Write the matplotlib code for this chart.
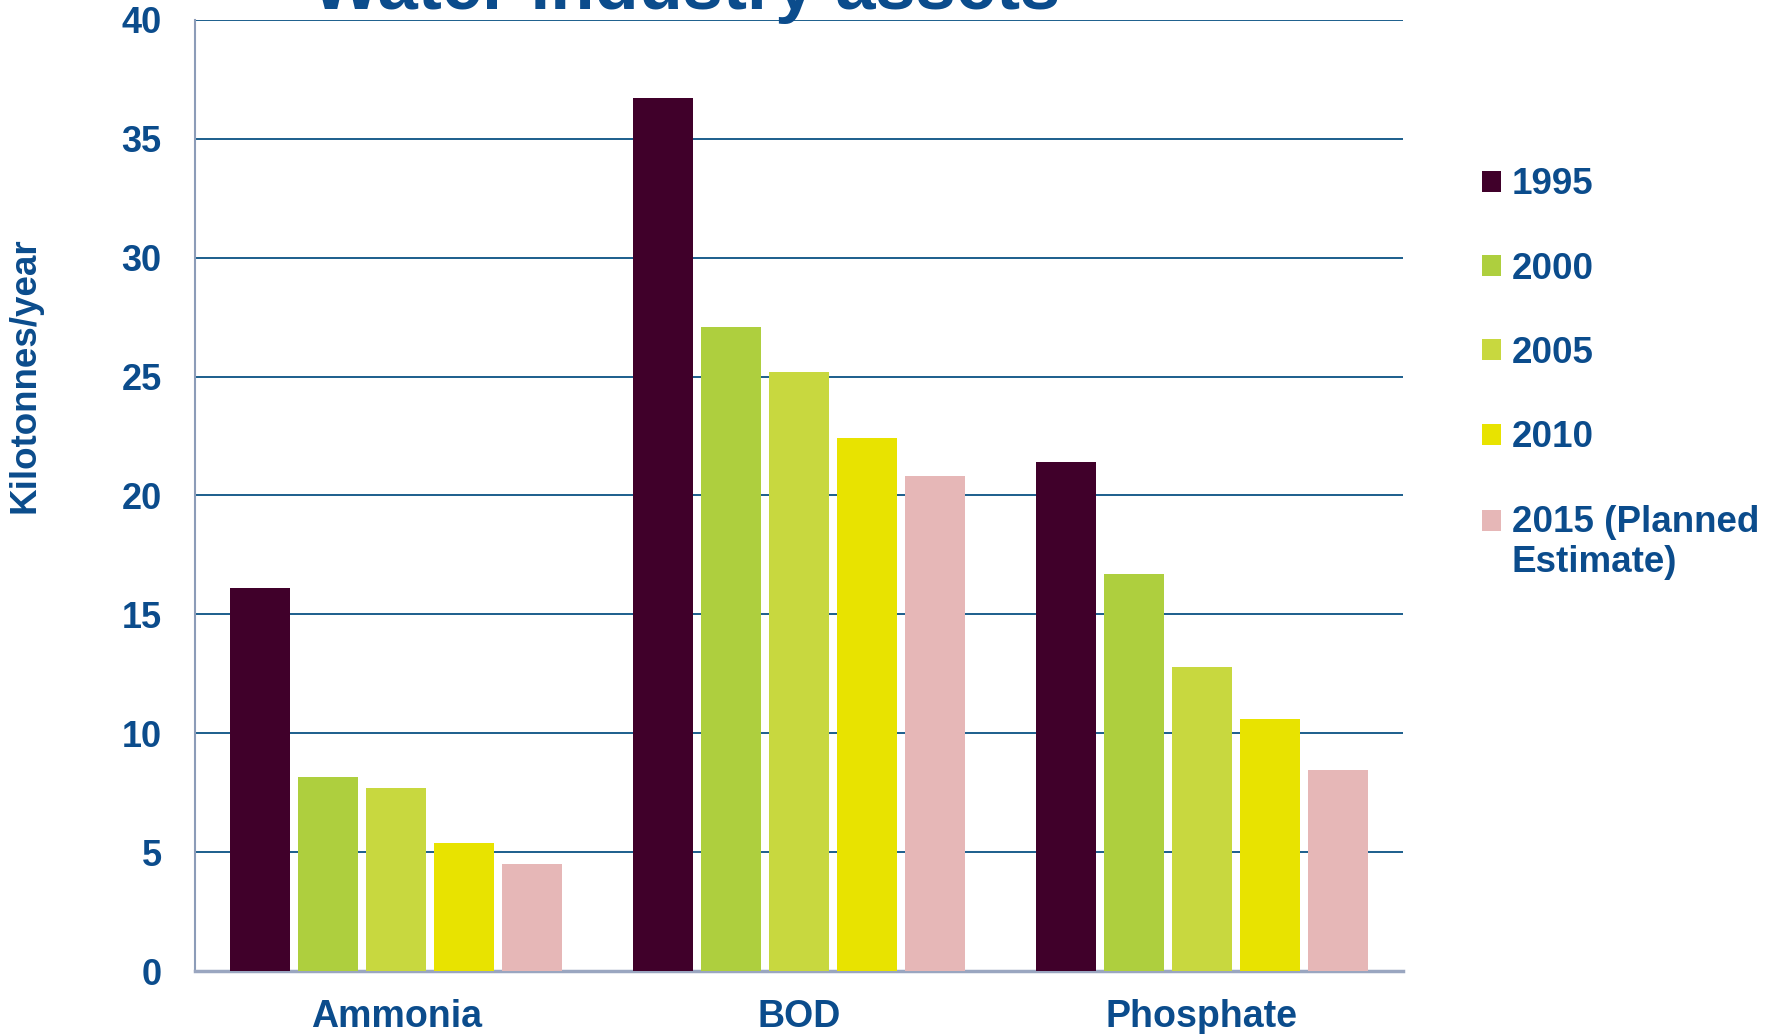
import numpy as np
import matplotlib.pyplot as plt
import matplotlib.patches as mpatches
from matplotlib.legend_handler import HandlerPatch, update_from_first_child

# Data
categories = ["Ammonia", "BOD", "Phosphate"]
years = ["1995", "2000", "2005", "2010", "2015 (Planned\nEstimate)"]
v1995 = [16.1, 36.7, 21.4]
v2000 = [8.15, 27.1, 16.7]
v2005 = [7.7, 25.2, 12.8]
v2010 = [5.4, 22.4, 10.6]
v2015 = [4.5, 20.8, 8.45]
yticks = [0, 5, 10, 15, 20, 25, 30, 35, 40]

series = [v1995, v2000, v2005, v2010, v2015]
colors = ["#40002A", "#AECF3E", "#C8D83F", "#E8E300", "#E6B7B7"]
blue = "#0B4C8C"
font = "Liberation Sans"

fig = plt.figure(figsize=(17.77, 10.34), dpi=100)
ax = fig.add_axes([0.1097, 0.0609, 0.6798, 0.9198])

x = np.arange(len(categories))
step, width = 0.169, 0.149
bars = []
for j, (vals, c, lab) in enumerate(zip(series, colors, years)):
    bars.append(ax.bar(x + (j - 2) * step, vals, width, color=c, label=lab, zorder=3))

ax.set_xlim(-0.5, 2.5)
ax.set_ylim(0, 40)
ax.set_yticks(yticks)
ax.yaxis.grid(True, color="#1B5E8C", linewidth=1.4, zorder=0)
ax.set_axisbelow(True)
ax.tick_params(axis="both", length=0)
ax.tick_params(axis="y", pad=24)
ax.tick_params(axis="x", pad=20)
for lbl in ax.get_yticklabels():
    lbl.set_fontfamily(font)
    lbl.set_fontweight("bold")
    lbl.set_fontsize(26)
    lbl.set_color(blue)
ax.set_xticks(x)
ax.set_xticklabels(categories, fontfamily=font, fontweight="bold",
                   fontsize=27, color=blue)

for s in ["top", "right"]:
    ax.spines[s].set_visible(False)
ax.spines["left"].set_color("#8C9CB8")
ax.spines["left"].set_linewidth(1.5)
ax.spines["bottom"].set_color("#9AA6C0")
ax.spines["bottom"].set_linewidth(2.5)

fig.text(25 / 1777, 1 - 375 / 1034, "Kilotonnes/year", rotation=90,
         ha="center", va="center", fontfamily=font,
         fontweight="bold", fontsize=26.5, color=blue)

# title cut off at top edge of the image, as in the source
fig.text(312 / 1777, 1 - 9 / 1034, "Water industry assets", ha="left",
         va="baseline", fontfamily=font, fontweight="bold",
         fontsize=52, color=blue)


def first_line_patch(legend, orig_handle, xdescent, ydescent, width, height, fontsize):
    # keep the square level with the first line of a two-line label
    return mpatches.Rectangle((-xdescent, -ydescent + 0.6 * fontsize), width, height)


leg = ax.legend(loc="upper left", bbox_to_anchor=(1464 / 1777, 1 - 149 / 1034),
                bbox_transform=fig.transFigure, frameon=False,
                prop={"family": font, "weight": "bold", "size": 26.5},
                handlelength=0.5, handleheight=0.5, handletextpad=0.3,
                labelspacing=1.34, borderpad=0,
                handler_map={bars[4]: HandlerPatch(patch_func=first_line_patch,
                                                   update_func=update_from_first_child)})
for t in leg.get_texts():
    t.set_color(blue)

fig.savefig("out.png", dpi=100)
